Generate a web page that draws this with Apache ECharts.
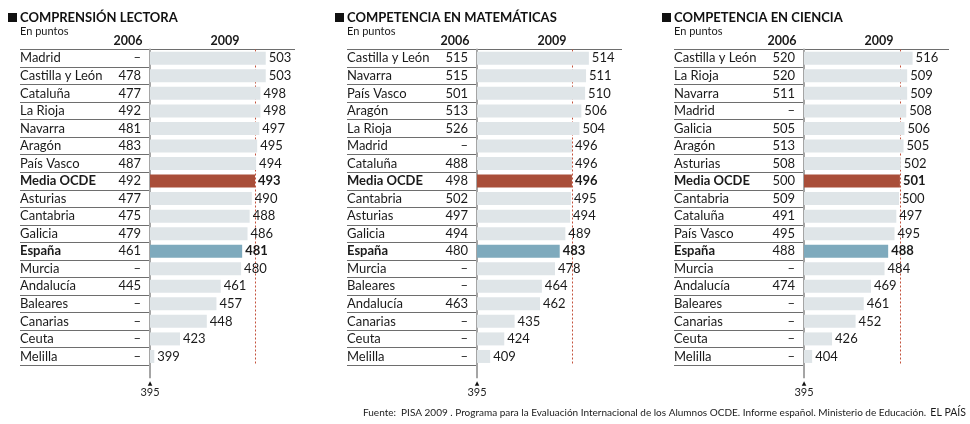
<!DOCTYPE html>
<html>
<head>
<meta charset="utf-8">
<script src="https://cdn.jsdelivr.net/npm/echarts@6/dist/echarts.min.js"></script>
<style>
  html, body { margin: 0; padding: 0; background: #fff; }
  #chart { width: 970px; height: 424px; }
</style>
</head>
<body>
<div id="chart"></div>
<script>
// Datos PISA 2009 por comunidad (puntos)
const titulos = ['COMPRENSIÓN LECTORA', 'COMPETENCIA EN MATEMÁTICAS', 'COMPETENCIA EN CIENCIA'];

const lecturaRegiones = ['Madrid', 'Castilla y León', 'Cataluña', 'La Rioja', 'Navarra', 'Aragón', 'País Vasco',
  'Media OCDE', 'Asturias', 'Cantabria', 'Galicia', 'España', 'Murcia', 'Andalucía', 'Baleares', 'Canarias', 'Ceuta', 'Melilla'];
const lectura2006 = [null, 478, 477, 492, 481, 483, 487, 492, 477, 475, 479, 461, null, 445, null, null, null, null];
const lectura2009 = [503, 503, 498, 498, 497, 495, 494, 493, 490, 488, 486, 481, 480, 461, 457, 448, 423, 399];

const matesRegiones = ['Castilla y León', 'Navarra', 'País Vasco', 'Aragón', 'La Rioja', 'Madrid', 'Cataluña',
  'Media OCDE', 'Cantabria', 'Asturias', 'Galicia', 'España', 'Murcia', 'Baleares', 'Andalucía', 'Canarias', 'Ceuta', 'Melilla'];
const mates2006 = [515, 515, 501, 513, 526, null, 488, 498, 502, 497, 494, 480, null, null, 463, null, null, null];
const mates2009 = [514, 511, 510, 506, 504, 496, 496, 496, 495, 494, 489, 483, 478, 464, 462, 435, 424, 409];

const cienciaRegiones = ['Castilla y León', 'La Rioja', 'Navarra', 'Madrid', 'Galicia', 'Aragón', 'Asturias',
  'Media OCDE', 'Cantabria', 'Cataluña', 'País Vasco', 'España', 'Murcia', 'Andalucía', 'Baleares', 'Canarias', 'Ceuta', 'Melilla'];
const ciencia2006 = [520, 520, 511, null, 505, 513, 508, 500, 509, 491, 495, 488, null, 474, null, null, null, null];
const ciencia2009 = [516, 509, 509, 508, 506, 505, 502, 501, 500, 497, 495, 488, 484, 469, 461, 452, 426, 404];

const ejeMin = 395;
const ejeMax = 515;

const panels = [
  { titulo: titulos[0], regiones: lecturaRegiones, v2006: lectura2006, v2009: lectura2009 },
  { titulo: titulos[1], regiones: matesRegiones, v2006: mates2006, v2009: mates2009 },
  { titulo: titulos[2], regiones: cienciaRegiones, v2006: ciencia2006, v2009: ciencia2009 }
];

// layout
const offsets = [0, 327, 654];
const barAreaW = [128.6, 112.8, 108.6];
const gridTop = 49.5;
const rowH = 17.54;
const gridH = rowH * 18;
const font = 'Lato';
const ink = '#1a1a1a';
const destacados = ['Media OCDE', 'España'];

const colorBase = '#dfe5e8';
const colorOCDE = '#a94e39';
const colorEsp = '#7eaabd';

const grid = [], xAxis = [], yAxis = [], series = [], graphic = [];

const richText = {
  b: { fontFamily: font, fontSize: 13, fontWeight: 'bold', color: ink },
  n: { fontFamily: font, fontSize: 13, color: ink }
};

panels.forEach((p, i) => {
  const ox = offsets[i];
  const g = i * 2;

  grid.push({ left: ox + 20, top: gridTop, width: 130, height: gridH, outerBoundsMode: 'none' });
  grid.push({ left: ox + 150, top: gridTop, width: barAreaW[i], height: gridH, outerBoundsMode: 'none' });

  xAxis.push({ gridIndex: g, type: 'value', min: 0, max: 1, show: false });
  xAxis.push({
    gridIndex: g + 1, type: 'value', min: ejeMin, max: ejeMax, interval: 120,
    axisLine: { show: false },
    splitLine: { show: false },
    axisTick: { show: true, customValues: [ejeMin], length: 13, lineStyle: { color: '#a5a5a5', width: 2 } },
    axisLabel: {
      customValues: [ejeMin], margin: 15,
      formatter: v => '{t|▲}\n{v|' + v + '}',
      rich: {
        t: { fontSize: 6, lineHeight: 6, color: '#111', fontFamily: 'DejaVu Sans' },
        v: { fontSize: 11, lineHeight: 13, color: '#222', fontFamily: font }
      }
    }
  });

  const fmtNombre = (val, idx) => (destacados.includes(p.regiones[idx]) ? '{b|' : '{n|') + val + '}';

  // nombres
  yAxis.push({
    gridIndex: g, type: 'category', inverse: true, data: p.regiones,
    axisLine: { show: false }, axisTick: { show: false },
    splitLine: { show: true, lineStyle: { color: '#6e6e6e', width: 1 } },
    axisLabel: { inside: true, margin: 0, interval: 0, formatter: fmtNombre, rich: richText }
  });
  // valores 2006
  yAxis.push({
    gridIndex: g, type: 'category', inverse: true, position: 'right',
    data: p.v2006.map(v => v == null ? '–' : String(v)),
    axisLine: { show: false }, axisTick: { show: false }, splitLine: { show: false },
    axisLabel: { inside: true, margin: 9, interval: 0, fontFamily: font, fontSize: 13, color: ink }
  });
  // eje de barras
  yAxis.push({
    gridIndex: g + 1, type: 'category', inverse: true, data: p.regiones,
    axisLine: { show: true, onZero: false, lineStyle: { color: '#a5a5a5', width: 2 } },
    axisTick: { show: false }, axisLabel: { show: false }, splitLine: { show: false }
  });

  const ocde = p.v2009[p.regiones.indexOf('Media OCDE')];

  series.push({
    type: 'bar',
    xAxisIndex: g + 1,
    yAxisIndex: i * 3 + 2,
    barWidth: 13,
    z: 3,
    data: p.v2009.map((v, k) => {
      const name = p.regiones[k];
      const item = { value: v, itemStyle: { color: colorBase } };
      if (name === 'Media OCDE') item.itemStyle.color = colorOCDE;
      if (name === 'España') item.itemStyle.color = colorEsp;
      if (destacados.includes(name)) item.label = { fontWeight: 'bold' };
      return item;
    }),
    label: { show: true, position: 'right', distance: 3, fontFamily: font, fontSize: 13, color: ink },
    markLine: {
      silent: true, symbol: 'none', z: 2,
      label: { show: false },
      lineStyle: { type: [2, 2], color: '#c4523c', width: 1 },
      data: [{ xAxis: ocde }]
    }
  });

  // cabecera
  graphic.push(
    { type: 'rect', shape: { x: ox + 8, y: 13, width: 9, height: 9 }, style: { fill: '#111' } },
    { type: 'text', x: ox + 20, y: 18, style: { text: p.titulo, font: 'bold 13px Lato', fill: '#111', verticalAlign: 'middle' } },
    { type: 'text', x: ox + 20, y: 31, style: { text: 'En puntos', font: '11px Lato', fill: ink, verticalAlign: 'middle' } },
    { type: 'text', x: ox + 128, y: 41, style: { text: '2006', font: 'bold 12.5px Lato', fill: ink, align: 'center', verticalAlign: 'middle' } },
    { type: 'text', x: ox + 225, y: 41, style: { text: '2009', font: 'bold 12.5px Lato', fill: ink, align: 'center', verticalAlign: 'middle' } },
    { type: 'line', shape: { x1: ox + 20, y1: gridTop, x2: ox + 295, y2: gridTop }, style: { stroke: '#6e6e6e', lineWidth: 1 } }
  );
});

graphic.push(
  { type: 'text', x: 363, y: 413, style: { text: 'Fuente:  PISA 2009 . Programa para la Evaluación Internacional de los Alumnos OCDE. Informe español. Ministerio de Educación.', font: '10px Lato', fill: ink, verticalAlign: 'middle' } },
  { type: 'text', x: 966, y: 413, style: { text: 'EL PAÍS', font: '10.5px Lato', fill: ink, align: 'right', verticalAlign: 'middle' } }
);

const myChart = echarts.init(document.getElementById('chart'));

const option = {
  animation: false,
  grid: grid,
  xAxis: xAxis,
  yAxis: yAxis,
  series: series,
  graphic: graphic
};

myChart.setOption(option);
</script>
</body>
</html>
